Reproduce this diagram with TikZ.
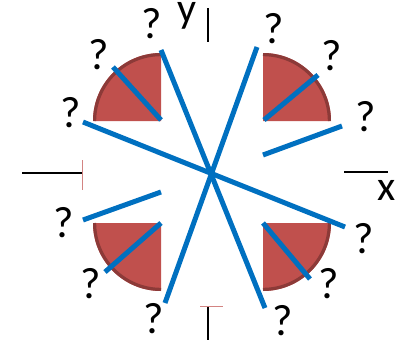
\documentclass[tikz,border=0pt]{standalone}
\usepackage{fontspec}
\usetikzlibrary{calc}
\setmainfont{Carlito}
\definecolor{pieRed}{HTML}{C0504D}
\definecolor{pieEdge}{HTML}{8C3A38}
\definecolor{lineBlue}{HTML}{0070C0}
\tikzset{
  qmark/.style={anchor=base,inner sep=0pt,font=\fontsize{44}{44}\selectfont},
  axlabel/.style={anchor=base,inner sep=0pt,font=\fontsize{42}{42}\selectfont},
  blueline/.style={draw=lineBlue,line width=5pt},
  axisline/.style={draw=black,line width=1.4pt},
  ticktrace/.style={draw=pieRed!70,line width=0.8pt},
  pie/.style={fill=pieRed},
  pieedge/.style={draw=pieEdge,line width=3.2pt}
}
\begin{document}
\begin{tikzpicture}[x=1pt,y=-1pt]
\useasboundingbox (0,0) rectangle (399,340);
% quarter discs
\coordinate (ctl) at (161,121);
\coordinate (ctr) at (263,121);
\coordinate (cbl) at (161,223);
\coordinate (cbr) at (263,223);
\fill[pie] (ctl) -- ++(-68,0) arc[start angle=180,end angle=270,radius=68] -- cycle;
\fill[pie] (ctr) -- ++(68,0) arc[start angle=0,end angle=-90,radius=68] -- cycle;
\fill[pie] (cbl) -- ++(-68,0) arc[start angle=180,end angle=90,radius=68] -- cycle;
\fill[pie] (cbr) -- ++(68,0) arc[start angle=0,end angle=90,radius=68] -- cycle;
\draw[pieedge] ($(ctl)+(-66.4,0)$) arc[start angle=180,end angle=270,radius=66.4];
\draw[pieedge] ($(ctr)+(66.4,0)$) arc[start angle=0,end angle=-90,radius=66.4];
\draw[pieedge] ($(cbl)+(-66.4,0)$) arc[start angle=180,end angle=90,radius=66.4];
\draw[pieedge] ($(cbr)+(66.4,0)$) arc[start angle=0,end angle=90,radius=66.4];
% axes remnants
\coordinate (xl1) at (22,173); \coordinate (xl2) at (82,173);
\coordinate (xr1) at (344,172); \coordinate (xr2) at (388,172);
\coordinate (yt1) at (208,8); \coordinate (yt2) at (208,42);
\coordinate (yb1) at (208,306); \coordinate (yb2) at (208,340);
\draw[axisline] (xl1) -- (xl2);
\draw[axisline] (xr1) -- (xr2);
\draw[axisline,line width=1.2pt] (yt1) -- (yt2);
\draw[axisline] (yb1) -- (yb2);
\coordinate (tl1) at (82,160); \coordinate (tl2) at (82,190);
\coordinate (tb1) at (200,306); \coordinate (tb2) at (223,306);
\draw[ticktrace] (tl1) -- (tl2);
\draw[ticktrace] (tb1) -- (tb2);
% blue lines
\coordinate (a1) at (161,50);  \coordinate (a2) at (265,308);
\coordinate (b1) at (257,47);  \coordinate (b2) at (165,303);
\coordinate (c1) at (83,122);  \coordinate (c2) at (345,227);
\coordinate (d1) at (113,67);
\coordinate (e1) at (318,75);
\coordinate (f1) at (263,155); \coordinate (f2) at (342,126);
\coordinate (g1) at (83,220);  \coordinate (g2) at (161,192);
\coordinate (h1) at (105,272);
\coordinate (k1) at (310,279);
\draw[blueline] (a1) -- (a2);
\draw[blueline] (b1) -- (b2);
\draw[blueline] (c1) -- (c2);
\draw[blueline] (d1) -- ($(ctl)+(0,-1)$);
\draw[blueline] ($(ctr)+(1,-1)$) -- (e1);
\draw[blueline] (f1) -- (f2);
\draw[blueline] (g1) -- (g2);
\draw[blueline] (cbl) -- (h1);
\draw[blueline] (cbr) -- (k1);
% labels
\node[axlabel] (ylab) at (187.5,22) {y};
\node[axlabel] (xlab) at (387,200) {x};
\node[qmark] (q1) at (152,38) {?};
\node[qmark] (q2) at (99,69) {?};
\node[qmark] (q3) at (71,127) {?};
\node[qmark] (q4) at (274,43) {?};
\node[qmark] (q5) at (332,70) {?};
\node[qmark] (q6) at (366,131) {?};
\node[qmark] (q7) at (64,237) {?};
\node[qmark] (q8) at (91,298) {?};
\node[qmark] (q9) at (154,333) {?};
\node[qmark] (q10) at (364,253) {?};
\node[qmark] (q11) at (329,298) {?};
\node[qmark] (q12) at (283,335) {?};
\end{tikzpicture}
\end{document}
